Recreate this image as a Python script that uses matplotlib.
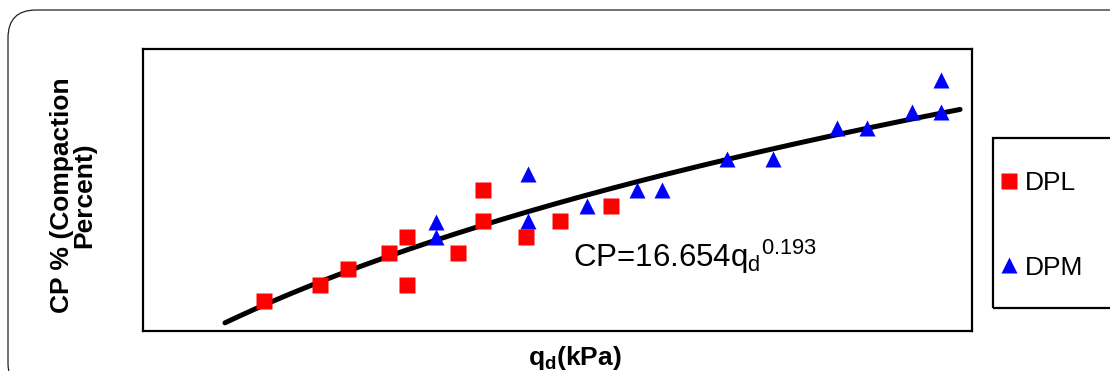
import matplotlib
matplotlib.use("Agg")
import matplotlib.pyplot as plt
import numpy as np
from matplotlib.patches import FancyBboxPatch, Rectangle

plt.rcParams['font.family'] = ['Liberation Sans', 'DejaVu Sans']
plt.rcParams['mathtext.fontset'] = 'custom'
plt.rcParams['mathtext.rm'] = 'Liberation Sans'
plt.rcParams['mathtext.it'] = 'Liberation Sans'
plt.rcParams['mathtext.bf'] = 'Liberation Sans:bold'

# data (no tick labels in the original)
dpl_q = [2212, 2517, 2669, 2893, 2990, 2990, 3268, 3404, 3404, 3638, 3823, 4101]
dpl_cp = [73.96, 75.24, 76.52, 77.80, 79.07, 75.24, 77.80, 82.83, 80.35, 79.07, 80.35, 81.55]
dpm_q = [3148, 3148, 3649, 3649, 3970, 4242, 4378, 4732, 4982, 5331, 5494, 5739, 5897, 5897]
dpm_cp = [80.27, 79.07, 84.11, 80.35, 81.55, 82.83, 82.83, 85.31, 85.31, 87.79, 87.79, 89.07, 91.62, 89.07]
fit_a = 16.654
fit_b = 0.193
fit_range = (2000, 6000)

fig = plt.figure(figsize=(11.1, 3.71), dpi=100)
ax = fig.add_axes([143 / 1110, 1 - 331 / 371, 829 / 1110, 282 / 371])

# outer rounded frame
fig.patches.append(FancyBboxPatch((0.08, -0.2), 11.3, 3.81, boxstyle="round,pad=0,rounding_size=0.28",
                                  transform=fig.dpi_scale_trans, fill=False, ec='#222222', lw=0.9))

qq = np.linspace(fit_range[0], fit_range[1], 200)
ax.plot(qq, fit_a * qq ** fit_b, color='black', lw=3.6, solid_capstyle='round', zorder=2)
ax.plot(dpl_q, dpl_cp, 's', color='#ff0000', ms=11, mec='none', label='DPL', zorder=3)
ax.plot(dpm_q, dpm_cp, '^', color='#0000ff', ms=12, mec='none', label='DPM', zorder=3)

ax.set_xlim(1554, 6065)
ax.set_ylim(71.56, 94.1)
ax.set_xticks([])
ax.set_yticks([])
for s in ax.spines.values():
    s.set_linewidth(1.6)

ax.text(3895, 76.68, r'CP=16.654q$_\mathregular{d}$$^\mathregular{0.193}$', fontsize=22.5,
        va='baseline', ha='left')

ax.set_xlabel(r'$\mathbf{q_d}$(kPa)', fontsize=19, fontweight='bold')
ax.xaxis.set_label_coords(0.521, -0.045)
ax.set_ylabel('CP % (Compaction\nPercent)', fontsize=19, fontweight='bold', linespacing=0.95)
ax.yaxis.set_label_coords(-0.056, 0.48)

# legend box
fig.patches.append(Rectangle((9.93, 0.63), 1.5, 1.70, transform=fig.dpi_scale_trans,
                             fill=False, ec='black', lw=1.6))
ax.legend(loc='upper left', bbox_to_anchor=(998 / 1110, 1 - 171 / 371), bbox_transform=fig.transFigure,
          frameon=False, fontsize=19, handlelength=0.8, handletextpad=0.2, borderpad=0,
          borderaxespad=0, labelspacing=2.3, markerscale=1.0)

fig.savefig('out.png', dpi=100)
